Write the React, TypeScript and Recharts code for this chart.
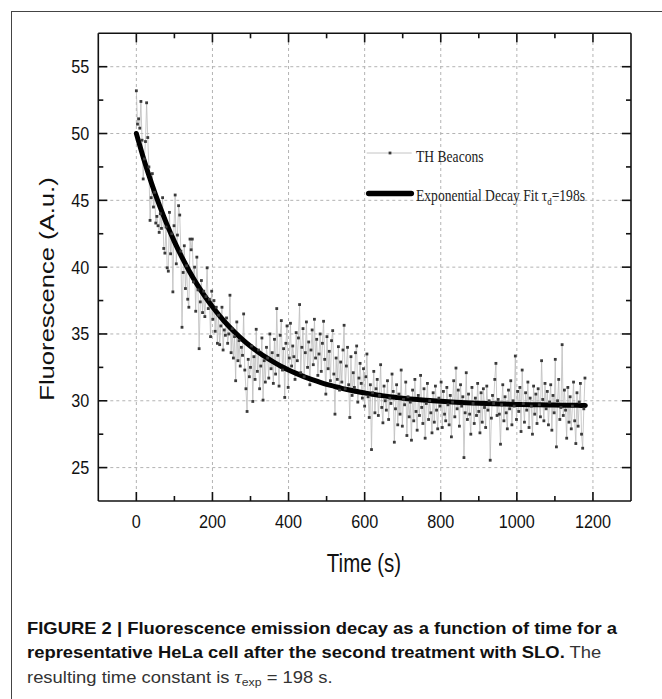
import { LineChart, Line, XAxis, YAxis, ReferenceLine, Legend } from 'recharts';

// TH Beacons readings, one every 3 s starting at t = 0 (rows of 60 s)
const SAMPLE_STEP_S = 3;
const beaconValues = [
  53.2, 50.7, 51.1, 50.4, 52.4, 49.5, 46.6, 48.1, 49.4, 52.3, 49.7, 47.5, 43.5, 45.2, 47.0, 44.5, 45.6, 43.3, 43.8, 43.1,
  42.6, 44.0, 42.9, 45.2, 41.4, 41.05, 43.0, 39.95, 39.7, 44.1, 41.0, 42.5, 38.15, 43.1, 45.4, 40.25, 42.4, 44.6, 43.9, 41.2,
  35.5, 39.6, 41.6, 38.4, 40.1, 37.6, 37.0, 42.1, 41.3, 42.1, 38.9, 40.0, 36.7, 40.75, 38.3, 33.9, 37.4, 39.0, 36.6, 38.2,
  36.3, 37.8, 39.95, 36.9, 37.6, 34.8, 38.2, 36.1, 37.5, 35.2, 37.0, 34.3, 36.4, 34.2, 35.6, 37.0, 33.8, 35.3, 34.9, 36.2,
  34.3, 35.0, 37.9, 33.6, 35.4, 33.2, 34.8, 31.5, 35.9, 33.0, 34.5, 32.6, 34.0, 33.4, 36.5, 32.3, 30.9, 29.2, 33.1, 31.8,
  32.5, 34.1, 29.95, 33.3, 31.6, 35.35, 32.2, 33.8, 30.9, 32.6, 34.7, 30.05, 33.0, 31.4, 34.0, 33.2, 31.7, 35.0, 32.4, 33.6,
  31.3, 34.6, 32.0, 36.9, 33.4, 31.1, 34.9, 36.0, 32.3, 33.9, 30.25, 34.3, 35.6, 31.0, 33.2, 35.8, 32.6, 34.1, 33.3, 31.6,
  35.1, 33.0, 34.7, 37.2, 32.1, 34.0, 35.4, 31.8, 33.6, 35.9, 32.5, 34.4, 31.2, 33.8, 35.3, 32.7, 36.1, 33.2, 34.6, 31.9,
  33.5, 35.0, 32.2, 34.3, 35.95, 33.1, 30.5, 34.8, 32.4, 33.7, 31.5, 34.5, 35.25, 32.0, 29.0, 33.2, 31.6, 34.05, 30.8, 32.9,
  31.4, 33.8, 35.65, 30.9, 32.6, 34.0, 31.2, 28.75, 33.3, 30.4, 32.1, 31.0, 33.6, 34.1, 29.9, 31.7, 32.8, 31.3, 30.2, 32.4,
  29.6, 31.8, 33.5, 30.3, 28.75, 31.2, 26.35, 30.6, 32.2, 29.1, 30.9, 31.6, 28.9, 30.4, 32.7, 29.5, 28.35, 31.1, 30.0, 29.3,
  31.5, 28.6, 30.2, 29.8, 32.0, 30.7, 26.9, 29.4, 31.2, 28.2, 30.5, 29.0, 32.3, 28.1, 30.1, 29.7, 31.4, 27.4, 30.3, 28.8,
  29.9, 27.05, 30.8, 28.5, 31.6, 29.2, 27.8, 30.4, 28.9, 31.9, 29.5, 28.3, 30.9, 27.2, 29.8, 31.3, 28.6, 30.0, 29.1, 27.6,
  30.6, 28.4, 31.1, 29.3, 27.9, 30.2, 29.6, 31.4, 28.0, 30.7, 29.0, 28.5, 31.0, 29.7, 28.2, 30.4, 27.3, 29.9, 31.5, 28.8,
  32.45, 29.4, 30.8, 28.1, 31.2, 29.6, 30.3, 25.75, 29.1, 32.1, 28.6, 30.5, 29.0, 27.5, 31.0, 29.8, 28.3, 30.2, 28.9, 31.3,
  29.2, 27.6, 30.6, 28.4, 30.9, 29.5, 28.0, 31.1, 29.3, 30.0, 25.55, 28.7, 30.4, 29.8, 31.6, 32.8, 28.9, 30.1, 29.0, 26.75,
  29.7, 31.2, 28.5, 30.3, 29.1, 27.9, 30.8, 29.4, 31.5, 28.2, 30.0, 29.6, 33.35, 28.6, 30.7, 29.2, 31.0, 27.7, 32.3, 29.8,
  28.4, 30.6, 29.3, 31.4, 28.0, 30.2, 29.6, 27.5, 31.1, 29.0, 30.5, 28.3, 30.9, 29.7, 28.8, 33.0, 30.1, 28.5, 31.3, 29.4,
  30.7, 28.2, 29.9, 31.2, 27.8, 30.4, 29.1, 33.1, 26.55, 30.0, 31.6, 28.6, 29.5, 34.2, 28.9, 30.8, 29.3, 27.2, 31.0, 28.4,
  30.3, 27.9, 29.6, 31.4, 28.5, 26.8, 30.6, 28.1, 29.9, 31.3, 27.5, 26.45, 29.4, 31.7,
];

// exponential decay fit, tau_d = 198 s
const fitTimes = [
  0, 20, 40, 60, 80, 100, 120, 140, 160, 180, 200, 220, 240, 260, 280, 300, 320, 340, 360, 380,
  400, 420, 440, 460, 480, 500, 520, 540, 560, 580, 600, 620, 640, 660, 680, 700, 720, 740, 760, 780,
  800, 840, 880, 920, 960, 1000, 1040, 1080, 1120, 1160, 1180,
];
const fitValues = [
  50.0, 48.04, 46.27, 44.67, 43.22, 41.91, 40.73, 39.66, 38.69, 37.82, 37.03, 36.32, 35.67, 35.09, 34.56, 34.08, 33.65, 33.26, 32.91, 32.59,
  32.31, 32.05, 31.81, 31.6, 31.41, 31.23, 31.08, 30.93, 30.81, 30.69, 30.59, 30.49, 30.41, 30.33, 30.26, 30.19, 30.14, 30.09, 30.04, 30.0,
  29.96, 29.89, 29.84, 29.8, 29.76, 29.73, 29.71, 29.69, 29.67, 29.66, 29.65,
];

const xTicks = [0, 100, 200, 300, 400, 500, 600, 700, 800, 900, 1000, 1100, 1200];
const xMajorTicks = [0, 200, 400, 600, 800, 1000, 1200];
const yTicks = [25, 27.5, 30, 32.5, 35, 37.5, 40, 42.5, 45, 47.5, 50, 52.5, 55];
const yMajorTicks = [25, 30, 35, 40, 45, 50, 55];

const beaconData = beaconValues.map((v, i) => ({ t: i * SAMPLE_STEP_S, v }));
const fitData = fitTimes.map((t, i) => ({ t, v: fitValues[i] }));

const SANS = '"Liberation Sans", Arial, sans-serif';
const SERIF = '"Liberation Serif", "Times New Roman", serif';
const MAJOR = 9;
const MINOR = 5;
const TICK_STROKE = { stroke: '#111', strokeWidth: 1.6 };
const AXIS_LINE = { stroke: '#111', strokeWidth: 1.6 };

function BottomTick({ x, y, payload }: any) {
  const major = xMajorTicks.includes(payload.value);
  return (
    <g>
      <line x1={x} x2={x} y1={y} y2={y - (major ? MAJOR : MINOR)} {...TICK_STROKE} />
      {major && (
        <text transform={`translate(${x},${y + 27.3}) scale(0.9,1)`} textAnchor="middle"
          fontFamily={SANS} fontSize={18} fill="#111">{payload.value}</text>
      )}
    </g>
  );
}

function TopTick({ x, y, payload }: any) {
  const major = xMajorTicks.includes(payload.value);
  return <line x1={x} x2={x} y1={y} y2={y + (major ? MAJOR : MINOR)} {...TICK_STROKE} />;
}

function LeftTick({ x, y, payload }: any) {
  const major = yMajorTicks.includes(payload.value);
  return (
    <g>
      <line x1={x} x2={x + (major ? MAJOR : MINOR)} y1={y} y2={y} {...TICK_STROKE} />
      {major && (
        <text transform={`translate(${x - 9},${y}) scale(0.9,1)`} textAnchor="end" dy="0.36em"
          fontFamily={SANS} fontSize={18} fill="#111">{payload.value}</text>
      )}
    </g>
  );
}

function RightTick({ x, y, payload }: any) {
  const major = yMajorTicks.includes(payload.value);
  return <line x1={x} x2={x - (major ? MAJOR : MINOR)} y1={y} y2={y} {...TICK_STROKE} />;
}

function BeaconDot({ cx, cy, index }: any) {
  return <rect key={`b-${index}`} x={cx - 1.4} y={cy - 1.4} width={2.8} height={2.8} fill="#3a3a3a" />;
}

function LegendBox() {
  return (
    <svg width={240} height={80} style={{ display: 'block', overflow: 'visible' }}>
      <line x1={6.7} x2={51.7} y1={18} y2={18} stroke="#bdbdbd" strokeWidth={0.9} />
      <rect x={28.6} y={16.6} width={2.8} height={2.8} fill="#3a3a3a" />
      <text transform="translate(56,27) scale(0.82,1)" fontFamily={SERIF} fontSize={16.6} fill="#222">TH Beacons</text>
      <line x1={8.7} x2={51.3} y1={58.5} y2={58.5} stroke="#000" strokeWidth={5.5} strokeLinecap="round" />
      <text transform="translate(56,66) scale(0.82,1)" fontFamily={SERIF} fontSize={16.6} fill="#222">
        Exponential Decay Fit τ<tspan dy={4} fontSize={11}>d</tspan><tspan dy={-4}>=198s</tspan>
      </text>
    </svg>
  );
}

export default function App() {
  const grid = { stroke: '#b3b3b3', strokeDasharray: '3 3', strokeWidth: 1 };
  return (
    <div style={{ position: 'absolute', left: 0, top: 0, width: 662, height: 699, background: '#fff', overflow: 'hidden' }}>
      <div style={{ position: 'absolute', left: 11, top: 11, right: 0, bottom: 0, borderTop: '1px solid #444', borderLeft: '1px solid #444' }} />
      <div style={{ position: 'absolute', left: 0, top: 0 }}>
        <LineChart width={662} height={600} margin={{ top: 32.3, right: 30, left: 97.3, bottom: 98 }}>
          <XAxis dataKey="t" type="number" domain={[-100, 1300]} ticks={xTicks} interval={0} allowDataOverflow
            height={1} tickSize={0} tickMargin={0} tickLine={false} tick={<BottomTick />} axisLine={AXIS_LINE} />
          <XAxis xAxisId="top" orientation="top" dataKey="t" type="number" domain={[-100, 1300]} ticks={xTicks}
            interval={0} allowDataOverflow height={1} tickSize={0} tickMargin={0} tickLine={false} tick={<TopTick />}
            axisLine={AXIS_LINE} />
          <YAxis type="number" domain={[22.5, 57.5]} ticks={yTicks} interval={0} allowDataOverflow width={1}
            tickSize={0} tickMargin={0} tickLine={false} tick={<LeftTick />} axisLine={AXIS_LINE} />
          <YAxis yAxisId="right" orientation="right" type="number" domain={[22.5, 57.5]} ticks={yTicks} interval={0}
            allowDataOverflow width={1} tickSize={0} tickMargin={0} tickLine={false} tick={<RightTick />}
            axisLine={AXIS_LINE} />
          {xMajorTicks.map((v) => <ReferenceLine key={`gx-${v}`} x={v} {...grid} />)}
          {yMajorTicks.map((v) => <ReferenceLine key={`gy-${v}`} y={v} {...grid} />)}
          <Line data={beaconData} dataKey="v" name="TH Beacons" type="linear" stroke="#bdbdbd" strokeWidth={0.8}
            dot={(p: any) => <BeaconDot key={`bd-${p.index}`} {...p} />} activeDot={false} isAnimationActive={false} />
          <Line data={fitData} dataKey="v" name="Exponential Decay Fit" type="monotone" stroke="#000" strokeWidth={5}
            strokeLinecap="round" dot={false} activeDot={false} isAnimationActive={false} />
          <Legend content={() => <LegendBox />} layout="horizontal" verticalAlign="middle" align="center"
            wrapperStyle={{ left: 360, top: 135, width: 240, height: 80 }} />
          <text transform="translate(364,571.5) scale(0.8,1)" textAnchor="middle"
            fontFamily={SANS} fontSize={25.6} fill="#111">Time (s)</text>
          <text transform="translate(54,289) rotate(-90) scale(1.25,1)" textAnchor="middle"
            fontFamily={SANS} fontSize={20.5} fill="#111">Fluorescence (A.u.)</text>
        </LineChart>
      </div>
      <div style={{ position: 'absolute', left: 27, top: 616, fontFamily: SANS, fontSize: 16.5, lineHeight: '24.4px',
        color: '#333', whiteSpace: 'nowrap', transform: 'scaleX(1.115)', transformOrigin: 'left top' }}>
        <div><b style={{ color: '#111' }}>FIGURE 2 | Fluorescence emission decay as a function of time for a</b></div>
        <div><b style={{ color: '#111' }}>representative HeLa cell after the second treatment with SLO.</b> The</div>
        <div>resulting time constant is <i style={{ fontFamily: SERIF, fontSize: 18 }}>τ</i><sub style={{ fontSize: 11, verticalAlign: '-3px' }}>exp</sub> = 198 s.</div>
      </div>
    </div>
  );
}
